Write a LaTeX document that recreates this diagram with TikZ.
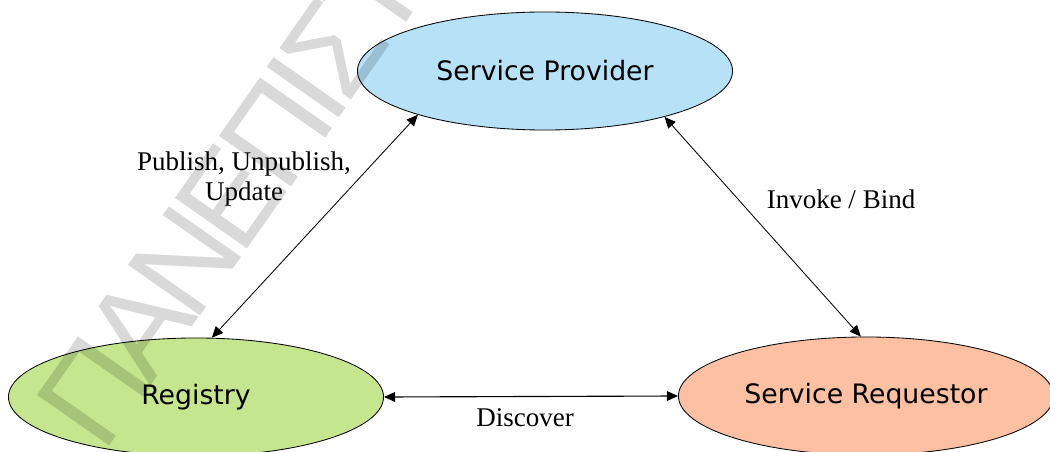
\documentclass[tikz,border=0pt]{standalone}
\usepackage{fontspec}
\setmainfont{Liberation Serif}
\newfontfamily\boxfont{DejaVu Sans}
\newfontfamily\markfont[LetterSpace=-7.5]{Liberation Sans}
\usetikzlibrary{shapes.geometric,arrows.meta}

\definecolor{provblue}{RGB}{183,225,247}
\definecolor{reggreen}{RGB}{197,230,142}
\definecolor{reqsalmon}{RGB}{253,192,162}

\tikzset{
  role/.style={ellipse, draw=black, line width=0.6pt, inner sep=0pt,
    minimum width=9.375cm, minimum height=2.95cm,
    font=\boxfont\fontsize{19}{22}\selectfont},
  link/.style={line width=0.6pt, {Triangle[length=8pt,width=7pt]}-{Triangle[length=8pt,width=7pt]}},
  lbl/.style={font=\fontsize{19.2}{20}\selectfont, inner sep=0pt, align=center},
  stamp/.style={font=\markfont\fontsize{91}{91}\selectfont, text=black,
    text opacity=0.15, rotate=55, anchor=base west, inner sep=0pt}
}

\begin{document}
\begin{tikzpicture}[x=0.025cm,y=-0.025cm]
  \clip (0,0) rectangle (1050,452);

  % the three roles
  \node[role, fill=provblue]  (sp)  at (545,71)  {Service Provider};
  \node[role, fill=reggreen]  (reg) at (196,397) {Registry};
  \node[role, fill=reqsalmon] (sr)  at (866,396) {Service Requestor};

  % interactions between the roles
  \draw[link] (reg.75) -- (sp.199);
  \draw[link] (sp.339) -- (sr.95);
  \draw[link, line width=0.8pt] (reg.east) -- (sr.west);

  \node[lbl] (pub) at (244,179) {Publish, Unpublish,\\[1.5pt]Update};
  \node[lbl] (inv) at (841,199) {Invoke / Bind};
  \node[lbl] (dis) at (525,418) {Discover};

  % faint stamp across the page
  \node[stamp] (mark) at (103,455) {ΠΑΝΕΠΙΣΤΗΜΙΟ};
\end{tikzpicture}
\end{document}
